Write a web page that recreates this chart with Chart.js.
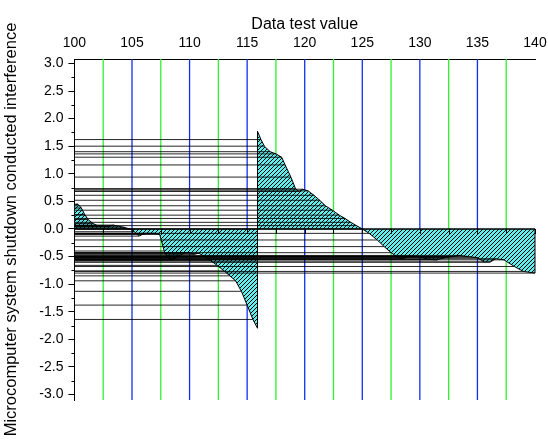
<!DOCTYPE html>
<html>
<head>
<meta charset="utf-8">
<script src="https://cdn.jsdelivr.net/npm/chart.js@4.4.1/dist/chart.umd.min.js"></script>
<style>
  body { margin: 0; background: #fff; }
</style>
</head>
<body>
<canvas id="myChart" width="548" height="444"></canvas>
<script>
// Sample points (x = test value, y = interference)
const xValues = [100.0, 100.3, 100.6, 100.9, 101.2, 101.6, 102.0, 102.5, 103.0, 103.4, 103.8, 104.3, 104.8,
    105.2, 105.6, 106.0, 106.5, 107.0, 107.4, 107.8, 108.1, 108.5, 109.0, 109.5, 110.0, 110.4, 110.8,
    111.3, 111.8, 112.4, 113.0, 113.5, 114.0, 114.5, 115.0, 115.5, 115.9,
    115.9, 116.2, 116.5, 117.0, 117.5, 118.0, 118.3, 118.8, 119.2, 119.5, 119.8, 120.3, 120.8, 121.3,
    121.8, 122.4, 123.0, 123.5, 124.0, 124.5, 125.0, 125.6, 126.3, 126.9, 127.5, 128.0, 128.5, 129.2,
    130.0, 130.7, 131.5, 132.2, 132.8, 133.5, 134.2, 135.0, 135.6, 136.1, 136.6, 137.3, 138.2, 139.0, 140.0];
const yValues = [0.43, 0.45, 0.38, 0.26, 0.17, 0.10, 0.06, 0.05, 0.05, 0.07, 0.05, 0.03, 0.00,
    -0.05, -0.13, -0.09, -0.08, -0.08, -0.10, -0.40, -0.52, -0.56, -0.50, -0.44, -0.43, -0.46, -0.44,
    -0.50, -0.57, -0.66, -0.76, -0.85, -0.94, -1.13, -1.38, -1.64, -1.80,
    1.77, 1.62, 1.50, 1.40, 1.36, 1.30, 1.16, 0.94, 0.73, 0.68, 0.72, 0.69, 0.61, 0.52,
    0.42, 0.34, 0.25, 0.19, 0.12, 0.06, 0.00, -0.08, -0.20, -0.32, -0.43, -0.50, -0.54, -0.49,
    -0.50, -0.55, -0.56, -0.52, -0.50, -0.48, -0.50, -0.52, -0.60, -0.60, -0.54, -0.56, -0.68, -0.77, -0.80];

// Tick positions
const xTicks = [100, 102.5, 105, 107.5, 110, 112.5, 115, 117.5, 120, 122.5, 125, 127.5, 130, 132.5, 135, 137.5, 140];
const yTicks = [-3, -2.5, -2, -1.5, -1, -0.5, 0, 0.5, 1, 1.5, 2, 2.5, 3];
const yMinorTicks = [-2.75, -2.25, -1.75, -1.25, -0.75, -0.25, 0.25, 0.75, 1.25, 1.75, 2.25, 2.75];

Chart.defaults.font.family = '"Liberation Sans", Arial, sans-serif';
Chart.defaults.color = '#000';

// cyan fill with thin black "/" hatch, 4px period
function hatchPattern() {
    const c = document.createElement('canvas');
    c.width = 4;
    c.height = 4;
    const g = c.getContext('2d');
    for (let i = 0; i < 4; i++) {
        for (let j = 0; j < 4; j++) {
            g.fillStyle = (i + j) % 4 === 3 ? '#000' : '#62ecec';
            g.fillRect(i, j, 1, 1);
        }
    }
    return g.createPattern(c, 'repeat');
}

// vertical grid lines, blue at major ticks and green at minor ones
const gridLines = {
    id: 'gridLines',
    beforeDatasetsDraw(chart) {
        const { ctx, chartArea: a, scales: { x } } = chart;
        ctx.save();
        ctx.lineWidth = 1.3;
        xTicks.forEach(v => {
            if (v === 100 || v === 140) return;
            const px = x.getPixelForValue(v);
            ctx.strokeStyle = v % 5 === 0 ? '#1030f0' : '#30f030';
            ctx.beginPath();
            ctx.moveTo(px, a.top);
            ctx.lineTo(px, a.bottom);
            ctx.stroke();
        });
        ctx.restore();
    }
};

// drop lines to the left axis, zero axis and minor y ticks
const overlay = {
    id: 'overlay',
    afterDatasetsDraw(chart) {
        const { ctx, chartArea: a, scales: { x, y } } = chart;
        ctx.save();

        ctx.strokeStyle = 'rgba(0,0,0,0.85)';
        ctx.lineWidth = 1;
        xValues.forEach((v, i) => {
            if (xValues[i - 1] === v || xValues[i + 1] === v) return;
            const py = y.getPixelForValue(yValues[i]);
            ctx.beginPath();
            ctx.moveTo(a.left, py);
            ctx.lineTo(x.getPixelForValue(v), py);
            ctx.stroke();
        });

        // closing edge of the fill at the last point
        const last = xValues.length - 1;
        const y0 = y.getPixelForValue(0);
        ctx.strokeStyle = '#000';
        ctx.beginPath();
        ctx.moveTo(x.getPixelForValue(xValues[last]), y.getPixelForValue(yValues[last]));
        ctx.lineTo(x.getPixelForValue(xValues[last]), y0);
        ctx.stroke();

        // axis at zero
        ctx.lineWidth = 1.5;
        ctx.beginPath();
        ctx.moveTo(a.left, y0);
        ctx.lineTo(a.right, y0);
        ctx.stroke();
        ctx.lineWidth = 1;
        xTicks.forEach(v => {
            if (v === 100) return;
            const px = Math.round(x.getPixelForValue(v)) + 0.5;
            ctx.beginPath();
            ctx.moveTo(px, y0);
            ctx.lineTo(px, y0 + 5);
            ctx.stroke();
        });

        // minor ticks on the left axis
        yMinorTicks.forEach(v => {
            const py = Math.round(y.getPixelForValue(v)) + 0.5;
            ctx.beginPath();
            ctx.moveTo(a.left - 3, py);
            ctx.lineTo(a.left, py);
            ctx.stroke();
        });
        ctx.restore();
    }
};

const ctx = document.getElementById('myChart').getContext('2d');
const myChart = new Chart(ctx, {
    type: 'line',
    data: {
        datasets: [{
            data: xValues.map((v, i) => ({ x: v, y: yValues[i] })),
            fill: 'origin',
            backgroundColor: hatchPattern(),
            borderColor: '#000',
            borderWidth: 1,
            pointRadius: 0,
            tension: 0
        }]
    },
    options: {
        responsive: false,
        animation: false,
        layout: {
            padding: { top: 15, left: 2, right: 0, bottom: 44 }
        },
        plugins: {
            legend: { display: false },
            tooltip: { enabled: false }
        },
        scales: {
            x: {
                type: 'linear',
                position: 'top',
                min: 100,
                max: 140,
                afterBuildTicks: s => { s.ticks = xTicks.map(v => ({ value: v })); },
                afterFit: s => { s.paddingRight = 13; s.paddingLeft = 0; },
                ticks: {
                    autoSkip: false,
                    maxRotation: 0,
                    padding: 7,
                    font: { size: 14 },
                    callback: v => (v % 5 === 0 ? String(v) : '')
                },
                grid: {
                    drawOnChartArea: false,
                    drawTicks: false
                },
                border: { color: '#000', width: 1 },
                title: {
                    display: true,
                    text: 'Data test value',
                    font: { size: 16 },
                    padding: { top: 0, bottom: -6 }
                }
            },
            y: {
                min: -3.1,
                max: 3.08,
                afterBuildTicks: s => { s.ticks = yTicks.map(v => ({ value: v })); },
                ticks: {
                    padding: 5,
                    font: { size: 14 },
                    callback: v => v.toFixed(1)
                },
                grid: {
                    drawOnChartArea: false,
                    tickLength: 6,
                    tickColor: '#000'
                },
                border: { color: '#000', width: 1 },
                title: {
                    display: true,
                    text: 'Microcomputer system shutdown conducted interference',
                    font: { size: 16.5 },
                    padding: { top: 0, bottom: 12.5 }
                }
            }
        }
    },
    plugins: [gridLines, overlay]
});
</script>
</body>
</html>
